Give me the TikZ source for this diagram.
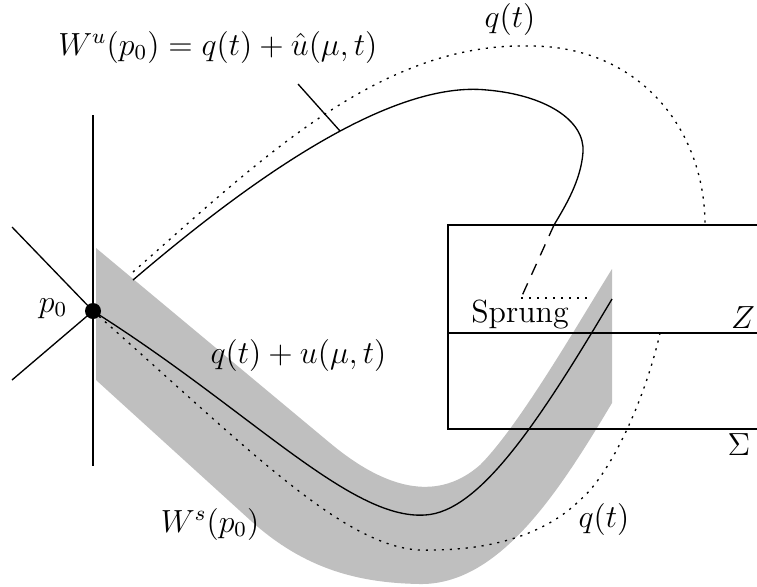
\documentclass[tikz,border=0pt,12pt]{standalone}
\begin{document}
\begin{tikzpicture}[x=0.375pt,y=-0.375pt,line width=0.5pt,
  dots/.style={dash pattern=on 0.8pt off 2.2pt},
  dashline/.style={dash pattern=on 4.5pt off 3.5pt},
  lbl/.style={inner sep=0pt},
  band/.style={fill=gray!50}]
\useasboundingbox (0,0) rectangle (757,586);
% gray band
\fill[band] (96,248) -- (330,443) .. controls (390,493) and (440,500) .. (480,465)
  .. controls (520,425) and (580,320) .. (612,269) -- (612,403)
  .. controls (560,490) and (500,585) .. (420,584)
  .. controls (360,583) and (305,570) .. (250,520) -- (96,380) -- cycle;
% coordinates
\coordinate (P) at (93,311);
\coordinate (vtop) at (93,115);
\coordinate (vbot) at (93,466);
\coordinate (ul) at (12,227);
\coordinate (ll) at (12,380);
\coordinate (btr) at (757,225);
\coordinate (btl) at (448,225);
\coordinate (bbl) at (448,429);
\coordinate (bbr) at (757,429);
\coordinate (zl) at (448,333);
\coordinate (zr) at (757,333);
\coordinate (wustart) at (133,280);
\coordinate (wuend) at (554,225);
\coordinate (jump) at (521,298);
\coordinate (jumpr) at (592,298);
\coordinate (qstart) at (133,272);
\coordinate (tickA) at (298,84);
\coordinate (tickB) at (340,131);
% axes
\draw (vtop) -- (vbot);
\draw (ul) -- (P);
\draw (ll) -- (P);
% box
\draw (btr) -- (btl) -- (bbl) -- (bbr);
\draw (zl) -- (zr);
% stable manifold
\draw (P) .. controls (250,410) and (350,520) .. (425,515)
  .. controls (480,512) and (540,420) .. (612,299);
\draw[dots] (P) .. controls (250,450) and (350,555) .. (430,550)
  .. controls (500,550) and (550,530) .. (580,500)
  .. controls (610,475) and (645,400) .. (660,333);
% unstable manifold
\draw (wustart) .. controls (250,180) and (390,80) .. (487,90)
  .. controls (545,95) and (585,120) .. (583,152)
  .. controls (581,180) and (566,205) .. (wuend);
\draw[dashline] (wuend) -- (jump);
\draw[dots] (jump) -- (jumpr);
\draw[dots] (qstart) .. controls (260,160) and (380,42) .. (530,46)
  .. controls (640,46) and (705,130) .. (705,225);
\draw (tickA) -- (tickB);
% point
\node[circle,fill,inner sep=0pt,minimum size=6pt] (p0) at (P) {};
% labels
\node[lbl,anchor=base east] (lp0) at (68,312) {$p_0$};
\node[lbl,anchor=base east] (lwu) at (378,55) {$W^u(p_0)=q(t)+\hat u(\mu,t)$};
\node[lbl,anchor=base] (lqtop) at (510,27) {$q(t)$};
\node[lbl,anchor=base west] (lqu) at (210,363) {$q(t)+u(\mu,t)$};
\node[lbl,anchor=base east] (lws) at (260,532) {$W^s(p_0)$};
\node[lbl,anchor=base west] (lqbot) at (578,527) {$q(t)$};
\node[lbl,anchor=base] (lsprung) at (520,322) {Sprung};
\node[lbl,anchor=base] (lz) at (743,328) {$Z$};
\node[lbl,anchor=base] (lsigma) at (739,455) {$\Sigma$};
\end{tikzpicture}
\end{document}
